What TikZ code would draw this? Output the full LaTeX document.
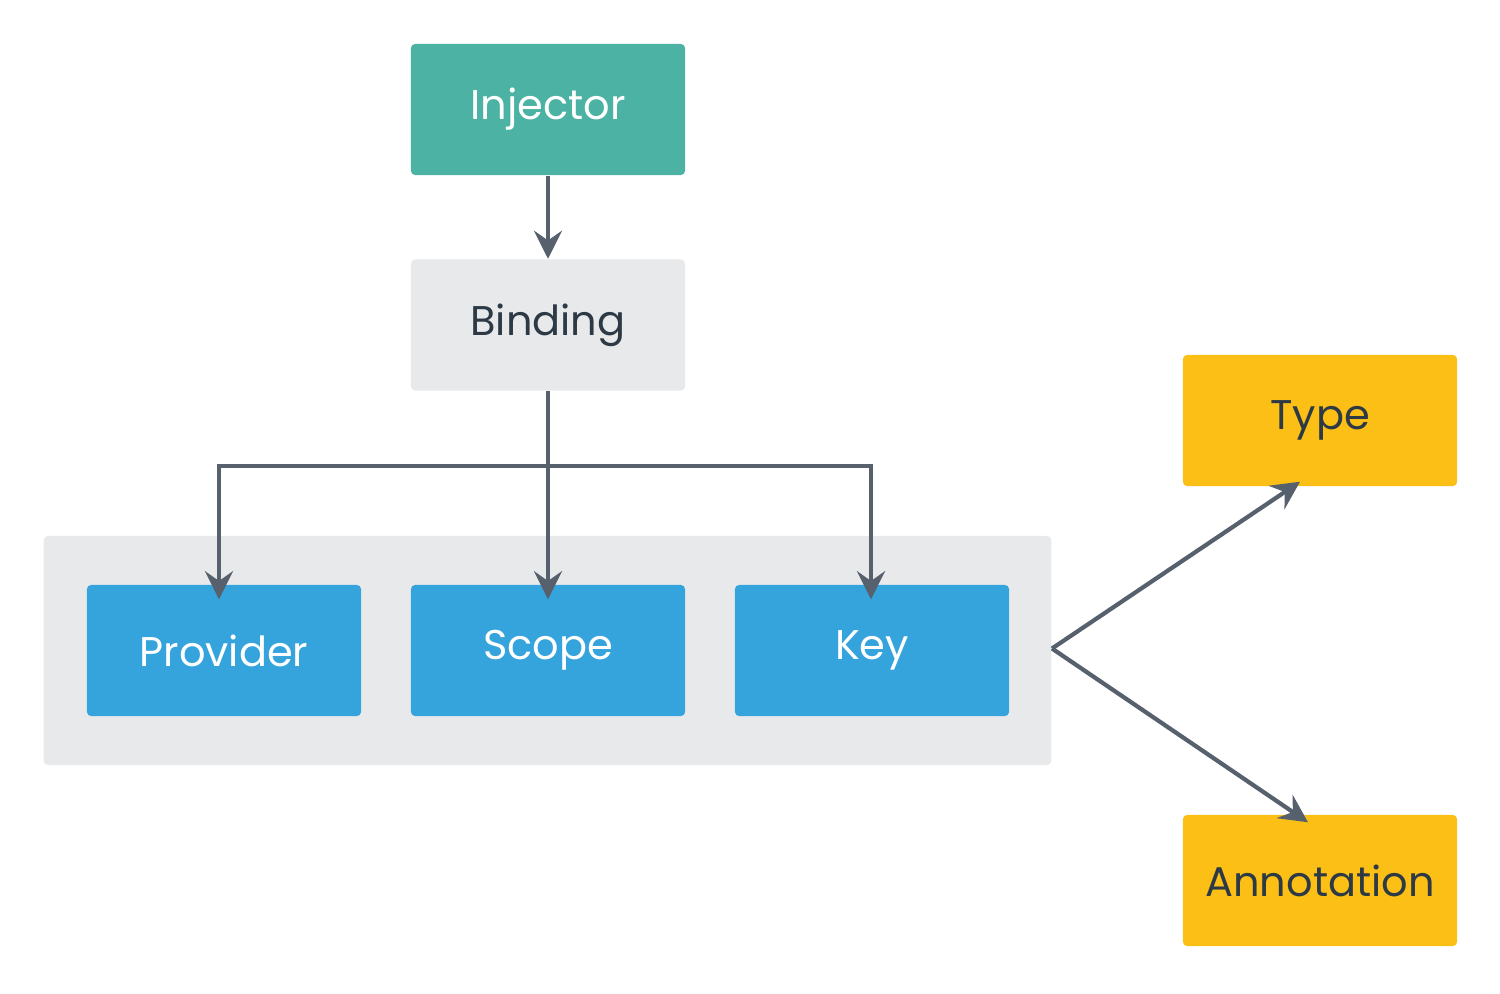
\documentclass[tikz,border=0pt]{standalone}
\usepackage{fontspec}
\setmainfont{Poppins}
\usetikzlibrary{arrows.meta,calc,positioning}
\definecolor{mteal}{HTML}{4CB3A4}
\definecolor{mgray}{HTML}{E8E9EB}
\definecolor{mblue}{HTML}{35A3DC}
\definecolor{myellow}{HTML}{FBBF16}
\definecolor{mtext}{HTML}{2D3A45}
\definecolor{mline}{HTML}{56616D}
\tikzstyle{box}=[rectangle, rounded corners=1.2pt, minimum width=2.74cm, minimum height=1.31cm, inner sep=0pt, font=\fontsize{11.8}{14}\selectfont]
\tikzstyle{tealbox}=[box, fill=mteal, text=white]
\tikzstyle{graybox}=[box, fill=mgray, text=mtext]
\tikzstyle{bluebox}=[box, fill=mblue, text=white]
\tikzstyle{yellowbox}=[box, fill=myellow, text=mtext]
\tikzstyle{arr}=[draw=mline, line width=1.2pt, -{Stealth[length=8pt, width=8pt, inset=2.8pt]}]

\begin{document}
\begin{tikzpicture}[x=0.01cm, y=-0.01cm]
    \useasboundingbox (0,0) rectangle (1500,993);
    \node[rectangle, rounded corners=1.2pt, fill=mgray, minimum width=10.07cm, minimum height=2.29cm] at (547.5,650.5) (container) {};

    \node[tealbox] at (548,109.5) (injector) {Injector};
    \node[graybox] at (548,325) (binding) {Binding};
    \node[bluebox] at (224,650.5) (provider) {Provider};
    \node[bluebox] at (548,650.5) (scope) {Scope};
    \node[bluebox] at (872,650.5) (key) {Key};
    \node[yellowbox] at (1320,420.5) (type) {Type};
    \node[yellowbox] at (1320,880.5) (annot) {Annotation};

    \coordinate (fork) at (548,466);
    \draw[arr] (injector.south) -- (binding.north);
    \draw[arr] (binding.south) -- ([yshift=-0.15cm]scope.north);
    \draw[arr] (fork) -| ([xshift=-0.05cm, yshift=-0.15cm]provider.north);
    \draw[arr] (fork) -| ([xshift=-0.01cm, yshift=-0.15cm]key.north);
    \draw[arr] ($(container.east)+(0,-2)$) -- ($(type.south)+(-20,-5)$);
    \draw[arr] ($(container.east)+(0,-2)$) -- ($(annot.north)+(-12,8)$);
\end{tikzpicture}
\end{document}
